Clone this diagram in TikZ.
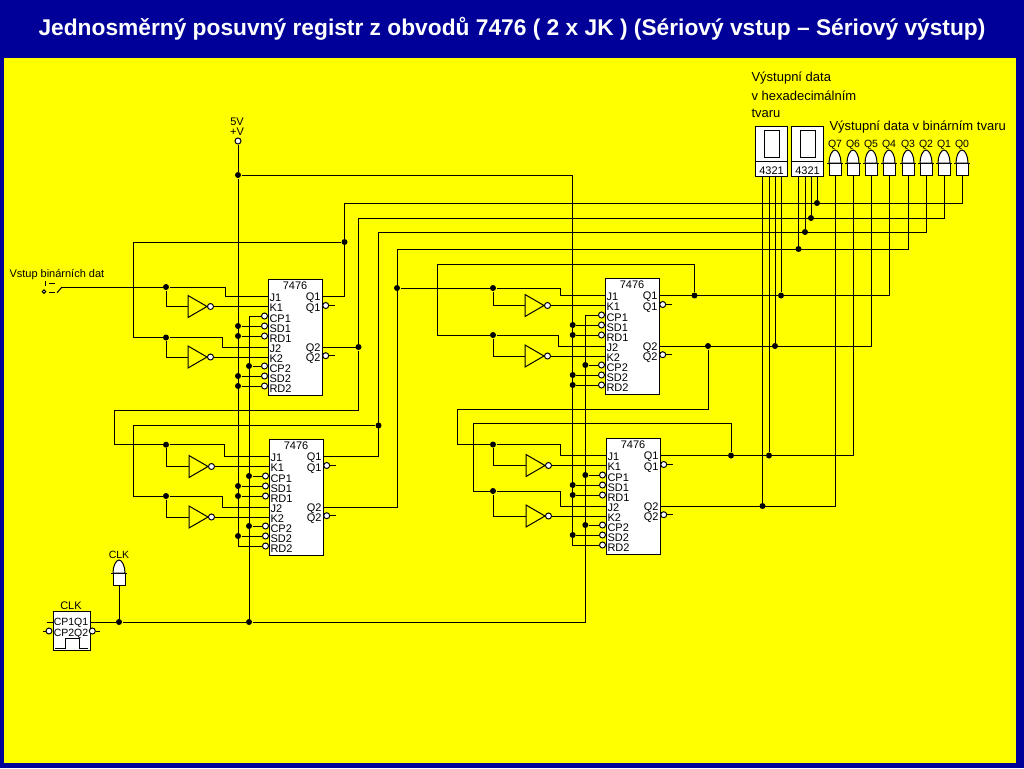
\documentclass[tikz,border=0pt]{standalone}
\usepackage{fontspec}
\setmainfont{Liberation Sans}
\usetikzlibrary{calc}
\usetikzlibrary{shapes.geometric}
\definecolor{titleblue}{RGB}{0,0,153}
\definecolor{pageyellow}{RGB}{255,255,0}

\begin{document}
\begin{tikzpicture}[x=1pt, y=-1pt, line width=1pt,
  lbl/.style={inner sep=0, font=\fontsize{11}{12}\selectfont},
  small/.style={inner sep=0, font=\fontsize{10.5}{12}\selectfont},
  txt/.style={inner sep=0, anchor=base west, font=\fontsize{13}{14}\selectfont},
  chip/.style={draw, fill=white, anchor=north west, minimum width=54, minimum height=116, inner sep=0},
  bubble/.style={draw, fill=white, circle, minimum size=6, inner sep=0},
  joint/.style={fill=black, circle, minimum size=6, inner sep=0},
  invtri/.style={draw, isosceles triangle, isosceles triangle stretches, minimum width=22, minimum height=19, inner sep=0, outer sep=0},
  lamp/.style={draw, fill=white, minimum width=12, minimum height=12, inner sep=0},
  digit/.style={draw, fill=white, anchor=north west, minimum width=32, minimum height=50, inner sep=0},
  seg/.style={draw, fill=white, anchor=north west, minimum width=15, minimum height=27, inner sep=0}]

\useasboundingbox (0,0) rectangle (1024,768);
\fill [titleblue] (0,0) rectangle (1024,768);
\fill [pageyellow] (4,58) rectangle (1016,763);
\node [text=white, font=\fontsize{22.75}{26}\selectfont\bfseries] (title) at (512,28.5)
  {Jednosměrný posuvný registr z obvodů 7476 ( 2 x JK ) (Sériový vstup – Sériový výstup)};

% registry 7476
\foreach \ff/\x/\y in {A/268/279, B/605/278, C/269/439, D/606/438} {
  \node [chip] (\ff) at (\x,\y) {};
  \node [lbl] (\ff-type) at (\x+27,\y+7) {7476};
  \foreach \p/\dy in {J1/17.5, K1/27.5, J2/68, K2/78} {
    \coordinate (\ff-\p) at (\x,\y+\dy);
    \node [lbl, anchor=west] (\ff-\p-text) at (\x+1,\y+\dy+1.5) {\p};
  }
  \foreach \p/\dy in {CP1/37, SD1/47, RD1/57, CP2/87, SD2/97, RD2/107} {
    \node [bubble] (\ff-\p-b) at (\x-3.5,\y+\dy) {};
    \node [lbl, anchor=west] (\ff-\p-text) at (\x+1,\y+\dy+2.5) {\p};
  }
  \foreach \p/\dy in {Q1/17.5, Q2/68} {
    \coordinate (\ff-\p) at (\x+54,\y+\dy);
    \node [lbl, anchor=east] (\ff-\p-text) at (\x+53,\y+\dy+1.5) {\p};
  }
  \foreach \n/\dy in {1/26.5, 2/76.7} {
    \node [bubble] (\ff-nq\n) at (\x+57.7,\y+\dy) {};
    \coordinate (\ff-nq\n-end) at (\x+67,\y+\dy);
    \draw (\ff-nq\n) -- (\ff-nq\n-end);
    \node [lbl, anchor=east] (\ff-nq\n-text) at (\x+53,\y+\dy+3) {Q\n};
  }
  \foreach \n/\dy in {1/27.5, 2/78} {
    \node [invtri, anchor=apex] (\ff-inv\n) at (\x-61,\y+\dy) {};
    \node [bubble, anchor=west] (\ff-not\n) at (\ff-inv\n.apex) {};
    \draw (\ff-not\n) -- (\ff-K\n);
  }
}

% vstupy J a K
\foreach \ff/\n/\bx/\jx/\by in {A/1/166/225/287, A/2/166/222/337.5, B/1/493/560/288, B/2/493/558/335,
    C/1/166/224/444.7, C/2/166/222/496, D/1/493/560/444.5, D/2/493/560/491} {
  \node [joint] (\ff-d\n) at (\bx,\by) {};
  \draw (\ff-d\n) -- (\jx,\by) |- (\ff-J\n);
  \draw (\ff-d\n) |- (\ff-inv\n.west);
}

% sepnute vstupu
\node [txt, font=\fontsize{11}{12}\selectfont] (swtext) at (9,277) {Vstup binárních dat};
\node [bubble, minimum size=3.5] (sw) at (44,291.7) {};
\coordinate (swq) at (62,287);
\draw (45,280.5) -- (45,285.5);
\draw (49,283) -- (55,283);
\draw (49,292) -- (55,292);
\draw (57,292.7) -- (swq);
\draw (swq) -- (A-d1);

% zarovky
\foreach \q/\x/\y in {Q7/835/169, Q6/853/169, Q5/871/169, Q4/889/169, Q3/908/169, Q2/926/169, Q1/944/169, Q0/962/169, CLK/119/579} {
  \node [lamp] (lamp-\q) at (\x,\y) {};
  \draw (\x-8,\y-6) -- (\x+8,\y-6);
  \filldraw [fill=white] (\x-6,\y-6) .. controls +(0,-7) and +(-3,0) .. (\x,\y-19)
    .. controls +(3,0) and +(0,-7) .. (\x+6,\y-6) -- cycle;
  \node [small] (lamp-\q-text) at (\x,\y-24) {\q};
}

% displeje
\foreach \ff/\x in {E/755, F/791} {
  \node [digit] (\ff) at (\x,125.7) {};
  \node [seg] (\ff-seg) at (\x+9.3,130) {};
  \draw (\x,161) -- (\x+32,161);
  \node [lbl] (\ff-text) at (\x+16.5,171) {4321};
  \foreach \n/\dx in {4/7.5, 3/14, 2/20, 1/26}
    \coordinate (\ff-\n) at (\x+\dx,175.7);
}

\node [txt] (hextext1) at (751,81.5) {Výstupní data};
\node [txt] (hextext2) at (751,100) {v hexadecimálním};
\node [txt] (hextext3) at (751,117.5) {tvaru};
\node [txt] (bintext) at (829,130) {Výstupní data v binárním tvaru};

% vystupy na zarovky
\coordinate (r0) at (344.5,203);
\coordinate (r1) at (358.5,218);
\coordinate (r2) at (378.5,232);
\coordinate (r3) at (397,249);
\draw (A-Q1) -| (r0) -| (lamp-Q0);
\draw (A-Q2) -| (r1) -| (lamp-Q1);
\draw (C-Q1) -| (r2) -| (lamp-Q2);
\draw (C-Q2) -| (r3) -| (lamp-Q3);
\draw (B-Q1) -| (lamp-Q4);
\draw (B-Q2) -| (lamp-Q5);
\draw (D-Q1) -| (lamp-Q6);
\draw (D-Q2) -| (lamp-Q7);

% vystupy na displeje
\foreach \ff/\r in {E-1/B-Q1, E-2/B-Q2, E-3/D-Q1, E-4/D-Q2, F-1/r0, F-2/r1, F-3/r2, F-4/r3} {
  \node [joint] (\ff-j) at (\r -| \ff) {};
  \draw (\ff-j) -- (\ff);
}

% zpetne vazby
\node [joint] (A-back) at (344.5,242) {};
\draw (A-back) -- (133,242) |- (A-d2);
\node [joint] (A-next) at (A-Q2 -| r1) {};
\draw (A-next) -- (358.5,410) -- (114,410) |- (C-d1);
\node [joint] (C-back) at (378.5,425.5) {};
\draw (C-back) -- (133,425.5) |- (C-d2);
\node [joint] (C-next) at (397,288) {};
\draw (C-next) -- (B-d1);
\coordinate (r4) at (694.5,264);
\node [joint] (B-back) at (B-Q1 -| r4) {};
\draw (B-back) -- (r4) -- (437.5,264) |- (B-d2);
\coordinate (r5) at (708,409);
\node [joint] (B-next) at (B-Q2 -| r5) {};
\draw (B-next) -- (r5) -- (457,409) |- (D-d1);
\coordinate (r6) at (731,423.3);
\node [joint] (D-back) at (D-Q1 -| r6) {};
\draw (D-back) -- (r6) -- (473.7,423.3) |- (D-d2);

% napajeni
\node [lbl] (pwr-5v) at (237,122) {5V};
\node [lbl] (pwr-v) at (237,132) {+V};
\node [bubble] (pwr) at (238,141) {};
\node [joint] (vcc1) at (238,175) {};
\coordinate (vcc2) at (572.7,175);
\draw (pwr) -- (vcc1);
\draw (vcc1) |- (C-RD2-b);
\draw (vcc1) -- (vcc2) |- (D-RD2-b);

% hodiny
\node [draw, fill=white, anchor=north west, minimum width=37, minimum height=39, inner sep=0] (clk) at (52.7,611) {};
\node [lbl] (clk-name) at (71,606) {CLK};
\node [small] (clk-text1) at (71,622.5) {CP1Q1};
\node [small] (clk-text2) at (71,634) {CP2Q2};
\draw (55,648.7) -- (65,648.7) -- (65,638.7) -- (79,638.7) -- (79,648.7) -- (88,648.7);
\node [bubble] (clk-nc) at (49,631) {};
\node [bubble] (clk-nq) at (92.3,631) {};
\draw (clk-nc) -- ++(-6,0);
\draw (clk-nq) -- ++(8,0);
\draw (46.7,622) -- (52.7,622);
\coordinate (clk-Q1) at (89.7,622);
\node [joint] (clk0) at (119,622) {};
\node [joint] (clk1) at (249,622) {};
\coordinate (clk2) at (585.3,622);
\draw (clk-Q1) -- (clk0) -- (clk1) -- (clk2) |- (B-CP1-b);
\draw (clk1) |- (A-CP1-b);
\draw (clk0) -- (lamp-CLK);

\foreach \ff/\p/\r in {A/SD1/vcc1, A/RD1/vcc1, A/SD2/vcc1, A/RD2/vcc1, C/SD1/vcc1, C/RD1/vcc1, C/SD2/vcc1,
    B/SD1/vcc2, B/RD1/vcc2, B/SD2/vcc2, B/RD2/vcc2, D/SD1/vcc2, D/RD1/vcc2, D/SD2/vcc2,
    A/CP2/clk1, C/CP1/clk1, C/CP2/clk1, B/CP2/clk2, D/CP1/clk2, D/CP2/clk2} {
  \node [joint] (\ff-\p-j) at (\ff-\p-b -| \r) {};
  \draw (\ff-\p-j) -- (\ff-\p-b);
}

\end{tikzpicture}
\end{document}
